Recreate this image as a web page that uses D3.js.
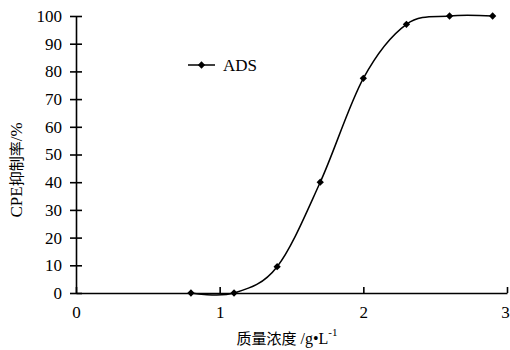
<!DOCTYPE html>
<html>
<head>
<meta charset="utf-8">
<script src="https://cdn.jsdelivr.net/npm/d3@7"></script>
<style>
  body { margin: 0; background: #fff; }
  text { font-family: "Liberation Serif", "Noto Sans CJK SC", serif; fill: #000; }
</style>
</head>
<body>
<svg id="chart" width="510" height="350"></svg>
<script>
// data
var conc = [0.8, 1.1, 1.4, 1.7, 2.0, 2.3, 2.6, 2.9];
var inhibition = [0, 0, 9.5, 40, 77.5, 97, 100, 100];
var xTicks = [0, 1, 2, 3];
var yTicks = [0, 10, 20, 30, 40, 50, 60, 70, 80, 90, 100];
var seriesName = "ADS";

var svg = d3.select("#chart");
var x = d3.scaleLinear().domain([0, 3]).range([76, 507]);
var y = d3.scaleLinear().domain([0, 100]).range([293, 16]);

var pts = conc.map(function(c, i) { return [c, inhibition[i]]; });

// y axis
var yAxis = svg.append("g").attr("transform", "translate(" + x(0) + ",0)")
  .call(d3.axisLeft(y).tickValues(yTicks).tickFormat(d3.format("d")).tickSize(6).tickSizeOuter(0).tickPadding(8));
yAxis.select(".domain").attr("stroke-width", 1.6);
yAxis.selectAll(".tick line").attr("x2", 6).attr("x1", -6).attr("stroke-width", 1.6);
yAxis.selectAll(".tick text").attr("font-size", 17).style("font-family", "Liberation Serif");

// x axis
var xAxis = svg.append("g").attr("transform", "translate(0," + y(0) + ")")
  .call(d3.axisBottom(x).tickValues(xTicks).tickFormat(d3.format("d")).tickSize(-6).tickSizeOuter(0).tickPadding(13));
xAxis.select(".domain").attr("stroke-width", 1.6);
xAxis.selectAll(".tick line").attr("stroke-width", 1.6);
xAxis.selectAll(".tick text").attr("font-size", 17).style("font-family", "Liberation Serif")
  .attr("dx", function(d) { return d === 3 ? -2 : 0; });

// smoothed line
var line = d3.line()
  .x(function(d) { return x(d[0]); })
  .y(function(d) { return y(d[1]); })
  .curve(d3.curveCardinal.tension(0));

svg.append("path")
  .attr("d", line(pts))
  .attr("fill", "none")
  .attr("stroke", "#000")
  .attr("stroke-width", 1.5);

var diamond = d3.symbol().type(d3.symbolDiamond2).size(34);
svg.selectAll(".pt").data(pts).enter().append("path")
  .attr("class", "pt")
  .attr("d", diamond)
  .attr("transform", function(d) { return "translate(" + x(d[0]) + "," + y(d[1]) + ")"; })
  .attr("fill", "#000");

// legend
var lg = svg.append("g").attr("transform", "translate(188,65)");
lg.append("line").attr("x1", 0).attr("x2", 27).attr("stroke", "#000").attr("stroke-width", 1.5);
lg.append("path").attr("d", diamond).attr("transform", "translate(13.5,0)").attr("fill", "#000");
lg.append("text").attr("x", 35).attr("y", 6).attr("font-size", 17).text(seriesName);

// axis titles
var xt = svg.append("text").attr("x", 287).attr("y", 344).attr("text-anchor", "middle").attr("font-size", 16);
xt.append("tspan").style("font-family", "Noto Sans CJK SC").attr("font-size", 15).text("质量浓度");
xt.append("tspan").text(" /g\u2022L");
xt.append("tspan").attr("dy", -8).attr("font-size", 11).text("-1");

svg.append("text")
  .attr("transform", "translate(22,170) rotate(-90)")
  .attr("text-anchor", "middle")
  .attr("font-size", 17)
  .html('CPE<tspan style="font-family:Noto Sans CJK SC" font-size="15">抑制率</tspan>/%');
</script>
</body>
</html>
